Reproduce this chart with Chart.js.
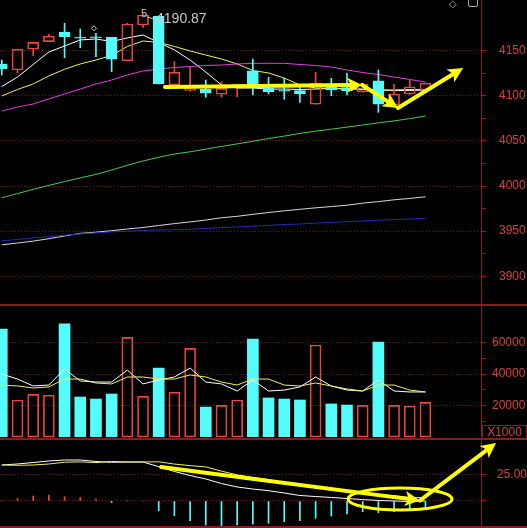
<!DOCTYPE html>
<html><head><meta charset="utf-8">
<script src="https://cdn.jsdelivr.net/npm/chart.js@4.4.1/dist/chart.umd.min.js"></script>
<style>
html,body{margin:0;padding:0;background:#000;width:527px;height:528px;overflow:hidden;position:relative;}
canvas{position:absolute;left:0;}
.sep{position:absolute;left:0;width:527px;height:2px;background:#8c1c1c;}
#x1000{position:absolute;left:482px;top:425px;width:43px;height:12px;border:1px solid #8c1c1c;color:#d8403c;font:12px "Liberation Sans",Arial,sans-serif;line-height:12px;text-align:center;}
#icoA{position:absolute;left:449px;top:-2px;color:#a8a8a8;font:10px "DejaVu Sans",sans-serif;}
#icoB{position:absolute;left:468px;top:-3px;width:8px;height:8px;border:1px solid #a8a8a8;border-radius:2px;}
</style></head><body>
<canvas id="cPrice" width="527" height="304" style="top:0"></canvas>
<div class="sep" style="top:304px"></div>
<canvas id="cVol" width="527" height="131" style="top:306px"></canvas>
<div class="sep" style="top:438px"></div>
<canvas id="cMacd" width="527" height="86" style="top:440px"></canvas>
<div class="sep" style="top:526px"></div>
<div id="x1000">X1000</div>
<div id="icoA">◇</div><div id="icoB"></div>
<script>
// ---------------- data ----------------
const candleOpen  = [4135.3,4128.6,4151.6,4160.0,4170.7,4165.0,4165.5,4164.9,4138.9,4178.5,4188.5,4112.0,4106.0,4107.5,4101.7,4111.2,4127.8,4108.3,4106.0,4105.7,4090.6,4110.1,4109.0,4104.5,4116.7,4089.8,4102.0,4106.4];
const candleHigh  = [4139.7,4151.6,4159.3,4168.5,4180.4,4174.1,4169.3,4164.9,4180.4,4190.87,4188.5,4137.8,4132.3,4117.5,4115.6,4113.1,4140.8,4120.5,4119.4,4110.0,4126.1,4119.4,4124.9,4114.0,4128.6,4112.8,4117.0,4113.9];
const candleLow   = [4123.1,4125.6,4144.5,4160.0,4142.2,4153.3,4143.3,4126.7,4138.9,4175.9,4113.1,4110.9,4105.0,4098.3,4098.3,4099.0,4100.9,4102.0,4096.1,4092.8,4090.6,4100.1,4100.9,4104.0,4081.7,4087.6,4101.0,4106.4];
const candleClose = [4130.0,4151.6,4159.3,4166.0,4165.5,4164.0,4164.5,4140.5,4179.6,4189.6,4113.1,4126.1,4108.0,4102.8,4108.3,4113.1,4112.0,4104.5,4105.0,4102.0,4113.9,4106.4,4105.7,4113.0,4090.6,4102.0,4110.0,4113.9];

const ma5   = [4110.3,4120.8,4134.7,4148.6,4155.2,4161.9,4163.0,4160.2,4164.1,4167.4,4159.1,4150.8,4139.7,4126.4,4112.0,4108.6,4108.6,4107.5,4107.5,4107.0,4107.5,4108.1,4108.1,4107.5,4106.4,4105.9,4105.9,4106.4];
const ma10  = [4099.8,4107.0,4113.1,4122.0,4129.4,4135.3,4139.7,4144.7,4154.7,4160.8,4159.1,4154.7,4149.7,4145.2,4140.8,4135.3,4128.0,4125.3,4119.7,4112.0,4108.6,4108.1,4107.5,4107.0,4106.4,4106.4,4107.0,4107.0];
const ma20  = [4083.2,4087.6,4090.9,4096.5,4102.0,4107.5,4113.1,4117.5,4123.1,4127.5,4129.7,4131.4,4132.5,4133.6,4134.1,4135.3,4136.0,4136.0,4136.0,4134.7,4133.6,4131.9,4128.6,4125.8,4123.6,4120.8,4118.1,4115.3];
const ma60  = [3986.9,3991.6,3996.3,4000.7,4004.9,4009.0,4012.9,4017.7,4022.9,4027.7,4031.9,4035.5,4037.9,4040.9,4043.9,4046.7,4049.6,4052.6,4055.3,4058.3,4060.8,4063.0,4065.3,4067.6,4070.0,4072.2,4074.7,4077.6];
const ma120 = [3934.8,3936.8,3938.9,3941.6,3944.6,3947.5,3948.8,3950.5,3952.3,3954.0,3956.2,3958.3,3960.2,3962.3,3964.8,3966.4,3968.6,3970.6,3972.5,3974.2,3975.8,3977.2,3978.7,3981.0,3982.7,3984.7,3986.2,3988.1];
const ma250 = [3939.3,3940.7,3942.4,3943.7,3945.5,3946.9,3948.0,3949.1,3949.8,3950.7,3951.2,3951.6,3952.0,3952.9,3953.9,3954.6,3955.4,3956.4,3957.3,3957.9,3958.8,3959.7,3960.4,3961.2,3962.1,3962.8,3963.4,3964.1];

const volume  = [68600,23500,27100,26500,71800,25400,24100,27300,63300,25800,43800,28400,56300,19000,20100,23500,62200,24800,24100,23500,58400,21000,20300,20100,60300,20100,19700,22000];
const volMa5  = [40000,36800,32400,33000,43200,35600,34900,34900,42500,33700,36200,38100,43800,34900,33700,29200,36200,29200,29800,31800,38100,32400,29800,29200,36200,29200,28600,28600];
const volMa10 = [33000,32400,31100,31800,36800,36800,34300,33700,38100,38100,36800,36800,39400,38100,34900,33000,36800,36800,33000,32400,34300,32400,30500,29200,33000,33000,29800,28600];

const macdDif  = [34.6,35.6,37.0,38.5,39.4,39.4,38.0,37.2,37.5,37.5,33.0,28.4,24.5,21.2,16.8,13.5,11.5,9.9,7.7,5.3,4.3,3.4,2.4,1.4,0.5,0.0,-0.5,0.0];
const macdDea  = [34.6,34.3,34.6,35.6,37.3,37.6,37.0,38.0,37.5,37.5,37.7,35.5,34.0,32.8,28.7,25.1,22.7,20.6,17.7,14.8,12.6,10.6,8.7,6.6,6.1,5.2,3.5,3.1];
const macdHist = [0,2.6,4.8,5.8,4.2,3.5,1.9,-1.5,0,0,-9.3,-14.1,-18.9,-23.1,-23.7,-23.1,-22.4,-21.4,-19.9,-18.9,-16.6,-14.4,-12.5,-10.3,-11.2,-10.3,-8.0,-6.1];

const priceTicks = [4150,4100,4050,4000,3950,3900];
const priceMinorTicks = [4125,4075,4025,3975,3925];
const volumeTicks = [60000,40000,20000];
const volumeMinorTicks = [50000,30000,10000];
const macdTicks = [25];
const macdGridOnly = [0];

// hand-drawn annotations, in (index, value) coordinates
const priceArrows = [[[10.4,4109.8],[22.96,4112.0]],[[22.96,4112.0],[25.25,4086.5]],[[25.25,4086.5],[29.4,4130.8]]];
const macdArrows  = [[[10.15,32.7],[26.65,0.5]],[[26.65,0.5],[31.5,55.8]]];
const macdEllipse = {cx:25.38, cy:1.9, rx:3.31, ry:10.6};
const markerIndex = 6;

// ---------------- style ----------------
const RED='#e8473f', CYAN='#54fcfc', AXIS='#8c1c1c', LABEL='#d8403c', GRID='#6a1a1a', YEL='#ffff00';
const X_MIN=-0.115, X_MAX=30.54;
const N = candleOpen.length;
const idx = Array.from({length:N},(_,i)=>i);
const isUp = idx.map(i=>candleClose[i]>=candleOpen[i]);

function yAxis(min,max,labels,gridOnly,minors,fmt,pad){
  const all = labels.concat(gridOnly,minors).sort((a,b)=>b-a);
  const gridSet = labels.concat(gridOnly);
  return {
    type:'linear', position:'right', min, max,
    afterBuildTicks:s=>{ s.ticks = all.map(v=>({value:v})); },
    afterFit:s=>{ s.width=46; s.paddingTop=0; s.paddingBottom=0; },
    ticks:{autoSkip:false,color:LABEL,font:{family:'Liberation Sans',size:12},padding:pad,crossAlign:'near',
      callback:v=>labels.includes(v)?fmt(v):''},
    grid:{color:c=>(c.tick&&gridSet.includes(c.tick.value))?GRID:'rgba(0,0,0,0)',tickColor:AXIS,tickLength:5,lineWidth:1},
    border:{display:true,color:AXIS,width:1,dash:[1,2]}
  };
}
function baseOpts(y){
  return {responsive:false,animation:false,events:[],layout:{padding:0},
    plugins:{legend:{display:false},tooltip:{enabled:false}},
    scales:{x:{type:'linear',min:X_MIN,max:X_MAX,display:false,offset:false},y}};
}
const lineDs=(arr,color,order)=>({type:'line',data:arr.map((v,i)=>({x:i,y:v})),borderColor:color,borderWidth:1,pointRadius:0,tension:0,order});
const barDs=(data,opts)=>Object.assign({type:'bar',data,grouped:false,borderSkipped:false},opts);

function drawArrow(ctx,x1,y1,x2,y2,w,head){
  const a=Math.atan2(y2-y1,x2-x1), c=Math.cos(a), s=Math.sin(a);
  ctx.lineWidth=w; ctx.lineCap='round';
  ctx.beginPath(); ctx.moveTo(x1,y1); ctx.lineTo(x2-c*head*0.7,y2-s*head*0.7); ctx.stroke();
  const hw=head*0.5;
  ctx.beginPath(); ctx.moveTo(x2,y2);
  ctx.lineTo(x2-c*head+s*hw,y2-s*head-c*hw);
  ctx.lineTo(x2-c*head*0.75,y2-s*head*0.75);
  ctx.lineTo(x2-c*head-s*hw,y2-s*head+c*hw);
  ctx.closePath(); ctx.fill();
}

// ---------------- price chart ----------------
const priceDecor={id:'priceDecor',afterDraw(chart){
  const {ctx,scales:{x,y}}=chart; ctx.save();
  let iMax=0; candleHigh.forEach((h,i)=>{if(h>candleHigh[iMax])iMax=i;});
  const px=x.getPixelForValue(iMax), py=y.getPixelForValue(candleHigh[iMax]);
  ctx.strokeStyle='#c8c8c8'; ctx.fillStyle='#c8c8c8'; ctx.lineWidth=1;
  ctx.beginPath(); ctx.moveTo(px+4,py+3); ctx.lineTo(px+13,py+6); ctx.stroke();
  ctx.font='14px "Liberation Sans"'; ctx.textBaseline='middle'; ctx.textAlign='left';
  ctx.fillText(candleHigh[iMax].toFixed(2),px+13,py+5);
  ctx.font='11px "Liberation Sans"'; ctx.fillText('5',px-2,py);
  const mx=x.getPixelForValue(markerIndex)-2, my=y.getPixelForValue(candleHigh[markerIndex])-5;
  ctx.beginPath(); ctx.moveTo(mx,my-2.5); ctx.lineTo(mx+2.5,my); ctx.lineTo(mx,my+2.5); ctx.lineTo(mx-2.5,my); ctx.closePath(); ctx.stroke();
  ctx.strokeStyle=YEL; ctx.fillStyle=YEL;
  priceArrows.forEach(([a,b])=>drawArrow(ctx,x.getPixelForValue(a[0]),y.getPixelForValue(a[1]),x.getPixelForValue(b[0]),y.getPixelForValue(b[1]),4,15));
  ctx.restore();
}};
new Chart(document.getElementById('cPrice'),{
  type:'bar',
  data:{datasets:[
    lineDs(ma250,'#2828b8',20), lineDs(ma120,'#d8d8d8',20), lineDs(ma60,'#50c850',20),
    lineDs(ma20,'#e040e0',20), lineDs(ma10,'#f0f060',20), lineDs(ma5,'#ffffff',20),
    barDs(idx.map(i=>({x:i,y:[Math.max(candleOpen[i],candleClose[i]),candleHigh[i]]})),{barThickness:1,backgroundColor:idx.map(i=>isUp[i]?RED:CYAN),borderWidth:0,order:3}),
    barDs(idx.map(i=>({x:i,y:[candleLow[i],Math.min(candleOpen[i],candleClose[i])]})),{barThickness:1,backgroundColor:idx.map(i=>isUp[i]?RED:CYAN),borderWidth:0,order:3}),
    barDs(idx.map(i=>({x:i,y:[candleOpen[i],candleClose[i]]})),{barThickness:11,backgroundColor:idx.map(i=>isUp[i]?'rgba(0,0,0,0)':CYAN),borderColor:idx.map(i=>isUp[i]?RED:CYAN),borderWidth:1,order:2})
  ]},
  options:baseOpts(yAxis(3869.2,4206.2,priceTicks,[],priceMinorTicks,v=>String(v),13)),
  plugins:[priceDecor]
});

// ---------------- volume chart ----------------
new Chart(document.getElementById('cVol'),{
  type:'bar',
  data:{datasets:[
    lineDs(volMa10,'#f0f060',0), lineDs(volMa5,'#ffffff',0),
    barDs(volume.map((v,i)=>({x:i,y:v})),{barThickness:11,backgroundColor:idx.map(i=>isUp[i]?'rgba(0,0,0,0)':CYAN),borderColor:idx.map(i=>isUp[i]?RED:CYAN),borderWidth:idx.map(i=>isUp[i]?1:0),order:5})
  ]},
  options:baseOpts(yAxis(0,83185,volumeTicks,[],volumeMinorTicks,v=>String(v),6))
});

// ---------------- MACD chart ----------------
const macdDecor={id:'macdDecor',afterDraw(chart){
  const {ctx,scales:{x,y}}=chart; ctx.save();
  ctx.strokeStyle=YEL; ctx.fillStyle=YEL;
  macdArrows.forEach(([a,b])=>drawArrow(ctx,x.getPixelForValue(a[0]),y.getPixelForValue(a[1]),x.getPixelForValue(b[0]),y.getPixelForValue(b[1]),4,15));
  const cx=x.getPixelForValue(macdEllipse.cx), cy=y.getPixelForValue(macdEllipse.cy);
  const rx=Math.abs(x.getPixelForValue(macdEllipse.cx+macdEllipse.rx)-cx), ry=Math.abs(y.getPixelForValue(macdEllipse.cy+macdEllipse.ry)-cy);
  ctx.lineWidth=3; ctx.beginPath(); ctx.ellipse(cx,cy,rx,ry,0,0,Math.PI*2); ctx.stroke();
  ctx.restore();
}};
new Chart(document.getElementById('cMacd'),{
  type:'bar',
  data:{datasets:[
    lineDs(macdDea,'#f0f060',1), lineDs(macdDif,'#ffffff',1),
    barDs(macdHist.map((v,i)=>({x:i,y:v})),{barThickness:1,backgroundColor:macdHist.map(v=>v>=0?RED:CYAN),borderWidth:0,order:5})
  ]},
  options:baseOpts(yAxis(-24.04,58.65,macdTicks,macdGridOnly,[],v=>v.toFixed(2),11)),
  plugins:[macdDecor]
});
</script>
</body></html>
